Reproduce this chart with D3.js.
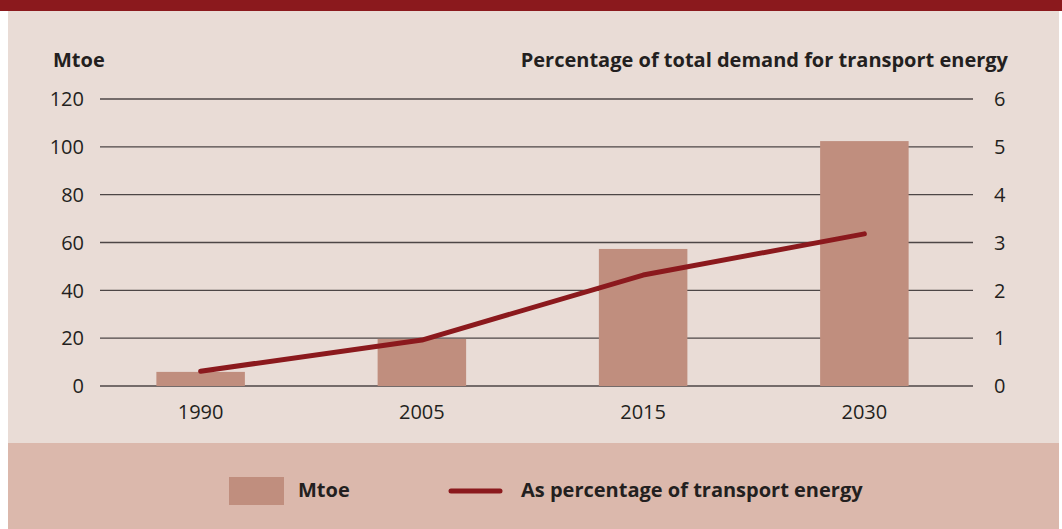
<!DOCTYPE html>
<meta charset="utf-8">
<style>

body {
  margin: 0;
  background: #fff;
}

text {
  font-family: "Open Sans", sans-serif;
  fill: #231f20;
  font-size: 20px;
}

</style>
<body>
<script src="https://cdn.jsdelivr.net/npm/d3@7"></script>
<script>

var width = 1062,
    height = 529;

var years = ["1990", "2005", "2015", "2030"];
var mtoe = [5.9, 19.7, 57.3, 102.4];
var sharePct = [0.31, 0.96, 2.32, 3.18];
var leftTicks = [0, 20, 40, 60, 80, 100, 120];
var rightTicks = [0, 1, 2, 3, 4, 5, 6];

var red = "#8b191d",
    barColor = "#c08e7e";

var svg = d3.select("body").append("svg")
    .attr("width", width)
    .attr("height", height);

// frame: red band on top, chart panel, legend panel
svg.append("rect").attr("x", 0).attr("y", 0).attr("width", width).attr("height", 11).attr("fill", red);
svg.append("rect").attr("x", 8).attr("y", 11).attr("width", 1051).attr("height", 432).attr("fill", "#e9dcd6");
svg.append("rect").attr("x", 8).attr("y", 443).attr("width", 1051).attr("height", 86).attr("fill", "#dbb8ac");

var x = d3.scaleBand()
    .domain(years)
    .range([90, 975])
    .paddingInner(0.6)
    .paddingOuter(0.3);

var y = d3.scaleLinear().domain([0, 120]).range([386, 99]);
var y2 = d3.scaleLinear().domain([0, 6]).range([386, 99]);

// gridlines
svg.append("g").selectAll("line")
    .data(leftTicks)
  .enter().append("line")
    .attr("x1", 100)
    .attr("x2", 973)
    .attr("y1", function(d) { return y(d); })
    .attr("y2", function(d) { return y(d); })
    .attr("stroke", "#4d4646")
    .attr("stroke-width", 1.4);

// left axis labels
svg.append("g").selectAll("text")
    .data(leftTicks)
  .enter().append("text")
    .attr("x", 84)
    .attr("y", function(d) { return y(d); })
    .attr("dy", "0.36em")
    .attr("text-anchor", "end")
    .text(function(d) { return d; });

// right axis labels
svg.append("g").selectAll("text")
    .data(rightTicks)
  .enter().append("text")
    .attr("x", 994)
    .attr("y", function(d) { return y2(d); })
    .attr("dy", "0.36em")
    .text(function(d) { return d; });

// axis titles
svg.append("text")
    .attr("x", 53).attr("y", 67)
    .style("font-weight", "bold")
    .text("Mtoe");

svg.append("text")
    .attr("x", 1008).attr("y", 67)
    .attr("text-anchor", "end")
    .style("font-weight", "bold")
    .text("Percentage of total demand for transport energy");

// bars
svg.append("g").selectAll("rect")
    .data(years)
  .enter().append("rect")
    .attr("x", function(d) { return x(d); })
    .attr("width", x.bandwidth())
    .attr("y", function(d, i) { return y(mtoe[i]); })
    .attr("height", function(d, i) { return y(0) - y(mtoe[i]); })
    .attr("fill", barColor);

// category labels
svg.append("g").selectAll("text")
    .data(years)
  .enter().append("text")
    .attr("x", function(d) { return x(d) + x.bandwidth() / 2; })
    .attr("y", 419)
    .attr("text-anchor", "middle")
    .text(function(d) { return d; });

// share line
var line = d3.line()
    .x(function(d, i) { return x(years[i]) + x.bandwidth() / 2; })
    .y(function(d) { return y2(d); });

svg.append("path")
    .datum(sharePct)
    .attr("d", line)
    .attr("fill", "none")
    .attr("stroke", red)
    .attr("stroke-width", 5)
    .attr("stroke-linecap", "round")
    .attr("stroke-linejoin", "round");

// legend
var legend = svg.append("g");

legend.append("rect")
    .attr("x", 229).attr("y", 477)
    .attr("width", 55).attr("height", 28)
    .attr("fill", barColor);

legend.append("text")
    .attr("x", 298).attr("y", 497)
    .style("font-weight", "bold")
    .text("Mtoe");

legend.append("line")
    .attr("x1", 451).attr("x2", 500)
    .attr("y1", 491).attr("y2", 491)
    .attr("stroke", red)
    .attr("stroke-width", 5)
    .attr("stroke-linecap", "round");

legend.append("text")
    .attr("x", 521).attr("y", 497)
    .style("font-weight", "bold")
    .text("As percentage of transport energy");

</script>
